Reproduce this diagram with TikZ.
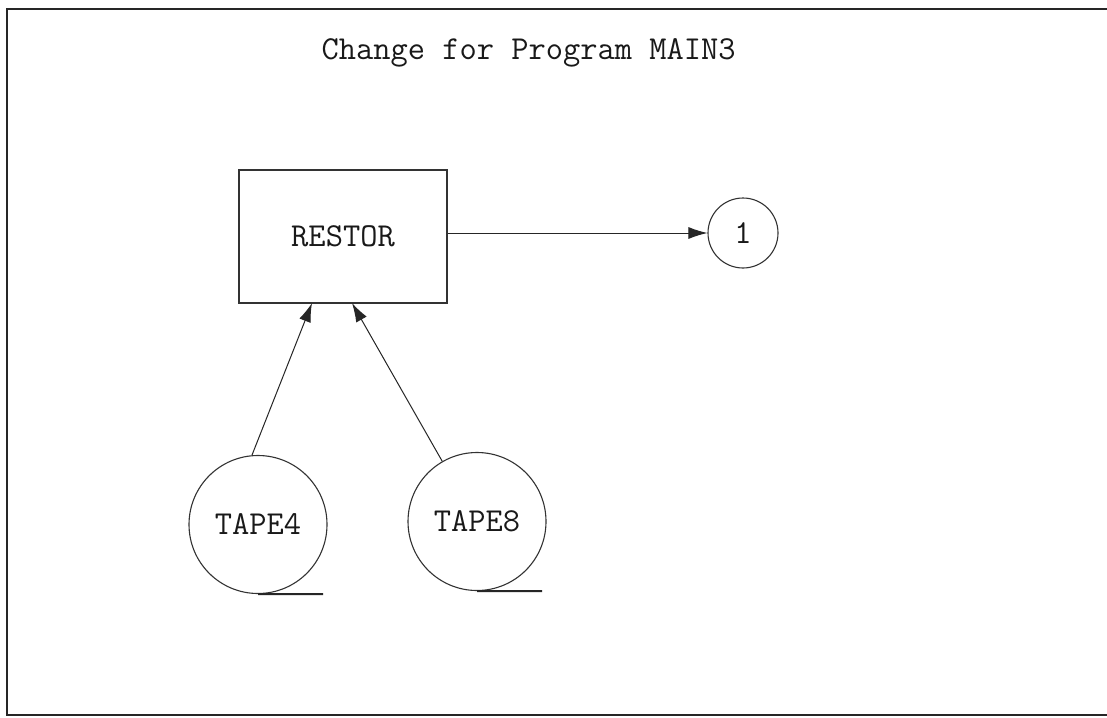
\documentclass[tikz,border=0pt]{standalone}
\usepackage{fontspec}
\usetikzlibrary{arrows.meta}
\begin{document}
\begin{tikzpicture}[x=1pt,y=-1pt,
  lbl/.style={font=\ttfamily\fontsize{33.5}{36}\selectfont, text=black!90},
  procbox/.style={draw=black!80, line width=1.4pt, minimum width=208pt, minimum height=133pt, inner sep=0pt},
  conn/.style={circle, draw=black!80, line width=1.1pt, minimum size=70pt, inner sep=0pt},
  tape/.style={circle, draw=black!80, line width=1.1pt, minimum size=138pt, inner sep=0pt},
  flow/.style={draw=black!85, line width=1pt, -{Latex[length=19pt,width=12pt]}},
  tail/.style={draw=black!85, line width=2pt},
  frame/.style={draw=black!85, line width=2pt}]
\useasboundingbox (0,0) rectangle (1107,717);
\fill[white] (0,0) rectangle (1107,717);
% frame
\draw[frame] (1107,9) -- (7,9) -- (7,715) -- (1107,715);
% title
\node[lbl, anchor=west] (title) at (318,53) {Change for Program MAIN3};
% nodes
\node[procbox, lbl] (restor) at (343,236.5) {RESTOR};
\node[conn, lbl] (c1) at (743,233) {1};
\node[tape, lbl] (t4) at (258,524.5) {TAPE4};
\node[tape, lbl] (t8) at (477,521.5) {TAPE8};
% tape tails
\coordinate (t4e) at (323,594);
\coordinate (t8e) at (542,591);
\draw[tail] (t4.south) -- (t4e);
\draw[tail] (t8.south) -- (t8e);
% connectors
\draw[flow] (restor.east |- c1.west) -- (c1.west);
\draw[flow] (t4.95) -- (312,303);
\draw[flow] (t8.120) -- (352,303);
\end{tikzpicture}
\end{document}
